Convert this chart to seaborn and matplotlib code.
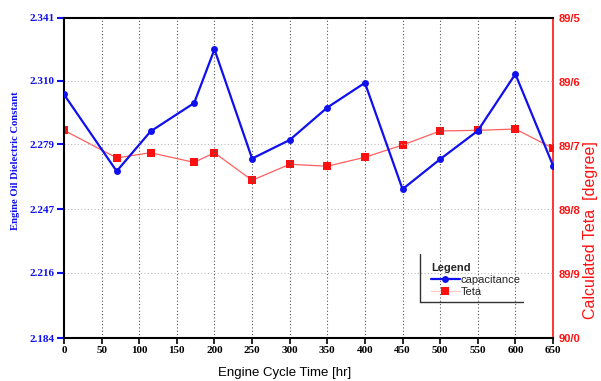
import matplotlib
matplotlib.use("Agg")
import matplotlib.pyplot as plt
import seaborn as sns
import pandas as pd
from matplotlib.lines import Line2D

# ---- data ----
hours = [0, 70, 115, 173, 200, 250, 300, 350, 400, 450, 500, 550, 600, 650]
capacitance = [2.3033, 2.2657, 2.2852, 2.2991, 2.3254, 2.2719, 2.2810,
               2.2969, 2.3090, 2.2569, 2.2716, 2.2855, 2.3133, 2.2685]
teta = [89.676, 89.719, 89.711, 89.726, 89.711, 89.754, 89.729,
        89.732, 89.718, 89.699, 89.677, 89.676, 89.674, 89.704]
x_ticks = [0, 50, 100, 150, 200, 250, 300, 350, 400, 450, 500, 550, 600, 650]
left_ticks = [2.184, 2.216, 2.247, 2.279, 2.310, 2.341]
right_ticks = [89.5, 89.6, 89.7, 89.8, 89.9, 90.0]
right_tick_labels = ["89/5", "89/6", "89/7", "89/8", "89/9", "90/0"]

df = pd.DataFrame({"hours": hours, "capacitance": capacitance, "teta": teta})

sns.set_theme(style="white")
plt.rcParams["font.family"] = ["DejaVu Sans"]

fig = plt.figure(figsize=(6.01, 3.81), dpi=100)
ax = fig.add_axes([64 / 601, 1 - 338 / 381, (553 - 64) / 601, (338 - 17.5) / 381])
ax2 = ax.twinx()

BLUE = "#1010ee"
RED = "#ff1010"

sns.lineplot(data=df, x="hours", y="capacitance", ax=ax, color=BLUE, lw=1.6,
             marker="o", markersize=5, markeredgewidth=0, zorder=5)
sns.lineplot(data=df, x="hours", y="teta", ax=ax2, color="#ff6060", lw=0.9,
             marker="s", markersize=6, markerfacecolor=RED, markeredgewidth=0, zorder=4)
ax.set_zorder(ax2.get_zorder() + 1)
ax.patch.set_visible(False)

ax.set_xlim(0, 650)
ax.set_ylim(2.184, 2.341)
ax2.set_ylim(90.0, 89.5)

serif_bold = dict(family="Liberation Serif", weight="bold", size=8)
ax.set_xticks(x_ticks)
ax.set_xticklabels([str(t) for t in x_ticks], fontdict=serif_bold, color="black")
ax.set_yticks(left_ticks)
ax.set_yticklabels([f"{v:.3f}" for v in left_ticks], fontdict=serif_bold, color=BLUE)
ax2.set_yticks(right_ticks)
ax2.set_yticklabels(right_tick_labels, family="Liberation Sans", weight="bold",
                    size=8, color=RED)

ax.tick_params(axis="x", which="both", bottom=True, length=4, width=1.2,
               color="black", direction="out", pad=2)
ax.tick_params(axis="y", left=True, length=5, width=1.5, color=BLUE,
               direction="out", pad=2)
ax2.tick_params(axis="y", right=True, length=0, pad=4)

# grid
for t in x_ticks[1:-1]:
    ax.axvline(t, color="#555555", lw=0.8, ls=(0, (1, 2)), zorder=0)
for v in left_ticks[1:-1]:
    ax.axhline(v, color="#bbbbbb", lw=0.8, ls=(0, (1, 2)), zorder=0)

for s in ["top", "bottom", "left"]:
    ax.spines[s].set_color("black")
    ax.spines[s].set_linewidth(1.5)
ax.spines["right"].set_visible(False)
for s in ["top", "bottom", "left"]:
    ax2.spines[s].set_visible(False)
ax2.spines["right"].set_color(RED)
ax2.spines["right"].set_linewidth(1.2)

ax.set_xlabel("Engine Cycle Time [hr]", family="Liberation Sans", size=9.5,
              color="black")
ax.xaxis.set_label_coords((285 - 64) / 489, -(373 - 338) / 320.5)
ax.xaxis.label.set_va("center")
ax.set_ylabel("Engine Oil Dielectric Constant", family="Liberation Serif",
              weight="bold", size=7.7, color=BLUE)
ax.yaxis.set_label_coords(-(64 - 20) / 489, (338 - 161) / 320.5)
ax2.set_ylabel("Calculated Teta  [degree]", family="Liberation Sans", size=11.5,
               color=RED)
ax2.yaxis.set_label_coords(1 + (583 - 553) / 489, (338 - 230) / 320.5)

# legend
handles = [
    Line2D([], [], color=BLUE, lw=1.6, marker="o", markersize=5, markeredgewidth=0),
    Line2D([], [], color="#ffc8c8", lw=0.9, marker="s", markersize=6,
           markerfacecolor=RED, markeredgewidth=0),
]
leg = ax.legend(handles, ["capacitance", "Teta"], title="Legend", frameon=False,
                loc="upper left", bbox_to_anchor=(423 / 601, 1 - 255 / 381),
                bbox_transform=fig.transFigure, prop=dict(family="Liberation Sans", size=8),
                handlelength=2.6, handletextpad=0.1, borderpad=0.2, labelspacing=0.2,
                alignment="left")
leg.get_title().set_fontfamily("Liberation Sans")
leg.get_title().set_fontweight("bold")
leg.get_title().set_fontsize(8)
fig.add_artist(Line2D([420 / 601, 420 / 601], [1 - 254 / 381, 1 - 302 / 381],
                      transform=fig.transFigure, color="#333333", lw=1))
fig.add_artist(Line2D([420 / 601, 523 / 601], [1 - 302 / 381, 1 - 302 / 381],
                      transform=fig.transFigure, color="#333333", lw=1))

fig.savefig("out.png", dpi=100)
